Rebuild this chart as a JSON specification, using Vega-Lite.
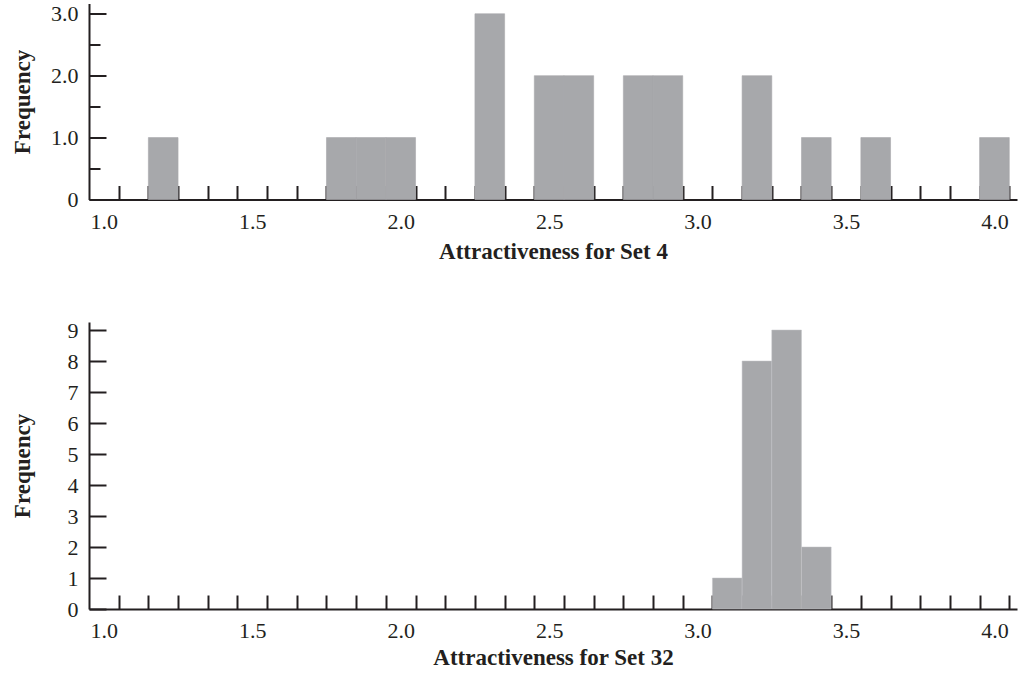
{
  "$schema": "https://vega.github.io/schema/vega-lite/v6.json",
  "background": "white",
  "padding": {"left": 11, "top": 2.5, "right": 5, "bottom": 5},
  "spacing": 55.5,
  "config": {
    "view": {"stroke": null},
    "font": "Liberation Serif",
    "axis": {
      "labelFont": "Liberation Serif",
      "labelFontSize": 22,
      "labelColor": "#231f20",
      "titleFont": "Liberation Serif",
      "titleFontSize": 23,
      "titleFontWeight": "bold",
      "titleColor": "#231f20",
      "domainColor": "#231f20",
      "domainWidth": 2,
      "tickColor": "#231f20",
      "tickWidth": 2,
      "grid": false,
      "zindex": 1
    }
  },
  "vconcat": [
    {
      "width": 928,
      "height": 196,
      "data": {"values": [
        {"start": 1.15, "end": 1.25, "count": 1},
        {"start": 1.75, "end": 1.85, "count": 1},
        {"start": 1.85, "end": 1.95, "count": 1},
        {"start": 1.95, "end": 2.05, "count": 1},
        {"start": 2.25, "end": 2.35, "count": 3},
        {"start": 2.45, "end": 2.55, "count": 2},
        {"start": 2.55, "end": 2.65, "count": 2},
        {"start": 2.75, "end": 2.85, "count": 2},
        {"start": 2.85, "end": 2.95, "count": 2},
        {"start": 3.15, "end": 3.25, "count": 2},
        {"start": 3.35, "end": 3.45, "count": 1},
        {"start": 3.55, "end": 3.65, "count": 1},
        {"start": 3.95, "end": 4.05, "count": 1}
      ]},
      "mark": {"type": "bar", "color": "#a7a8ab", "stroke": "#a7a8ab", "strokeWidth": 0.6},
      "encoding": {
        "x": {
          "field": "start", "type": "quantitative",
          "scale": {"domain": [0.95, 4.076], "nice": false, "zero": false},
          "axis": {
            "title": "Attractiveness for Set 4",
            "values": [1.0, 1.05, 1.15, 1.25, 1.35, 1.45, 1.5, 1.55, 1.65, 1.75, 1.85, 1.95, 2.0, 2.05, 2.15, 2.25, 2.35, 2.45, 2.5, 2.55, 2.65, 2.75, 2.85, 2.95, 3.0, 3.05, 3.15, 3.25, 3.35, 3.45, 3.5, 3.55, 3.65, 3.75, 3.85, 3.95, 4.0, 4.05],
            "format": ".1f",
            "labelExpr": "round(datum.value*100) % 10 == 5 ? '' : datum.label",
            "tickOpacity": {"condition": {"test": "round(datum.value*100) % 10 == 5", "value": 1}, "value": 0},
            "tickSize": -14,
            "labelPadding": 25.5,
            "labelFlush": false,
            "labelOverlap": false,
            "titlePadding": 8
          }
        },
        "x2": {"field": "end"},
        "y": {
          "field": "count", "type": "quantitative",
          "scale": {"domain": [0, 3.166], "nice": false},
          "axis": {
            "title": "Frequency",
            "titleX": -54.5,
            "values": [0, 0.5, 1, 1.5, 2, 2.5, 3],
            "labelExpr": "datum.value == 0 ? '0' : (datum.value % 1 == 0 ? format(datum.value, '.1f') : '')",
            "tickSize": {"condition": {"test": "datum.value % 1 == 0", "value": -17}, "value": -11},
            "labelPadding": 28,
            "labelOverlap": false,
            "labelFlush": false
          }
        },
        "y2": {"datum": 0}
      }
    },
    {
      "width": 928,
      "height": 287,
      "data": {"values": [
        {"start": 3.05, "end": 3.15, "count": 1},
        {"start": 3.15, "end": 3.25, "count": 8},
        {"start": 3.25, "end": 3.35, "count": 9},
        {"start": 3.35, "end": 3.45, "count": 2}
      ]},
      "mark": {"type": "bar", "color": "#a7a8ab", "stroke": "#c2c3c6", "strokeWidth": 0.5},
      "encoding": {
        "x": {
          "field": "start", "type": "quantitative",
          "scale": {"domain": [0.95, 4.076], "nice": false, "zero": false},
          "axis": {
            "title": "Attractiveness for Set 32",
            "values": [1.0, 1.05, 1.15, 1.25, 1.35, 1.45, 1.5, 1.55, 1.65, 1.75, 1.85, 1.95, 2.0, 2.05, 2.15, 2.25, 2.35, 2.45, 2.5, 2.55, 2.65, 2.75, 2.85, 2.95, 3.0, 3.05, 3.15, 3.25, 3.35, 3.45, 3.5, 3.55, 3.65, 3.75, 3.85, 3.95, 4.0, 4.05],
            "format": ".1f",
            "labelExpr": "round(datum.value*100) % 10 == 5 ? '' : datum.label",
            "tickOpacity": {"condition": {"test": "round(datum.value*100) % 10 == 5", "value": 1}, "value": 0},
            "tickSize": -14,
            "labelPadding": 25.5,
            "labelFlush": false,
            "labelOverlap": false,
            "titlePadding": 5
          }
        },
        "x2": {"field": "end"},
        "y": {
          "field": "count", "type": "quantitative",
          "scale": {"domain": [0, 9.26], "nice": false},
          "axis": {
            "title": "Frequency",
            "titleX": -54.5,
            "values": [0, 1, 2, 3, 4, 5, 6, 7, 8, 9],
            "format": "d",
            "tickSize": -17,
            "labelPadding": 28,
            "labelOverlap": false,
            "labelFlush": false
          }
        },
        "y2": {"datum": 0}
      }
    }
  ]
}
